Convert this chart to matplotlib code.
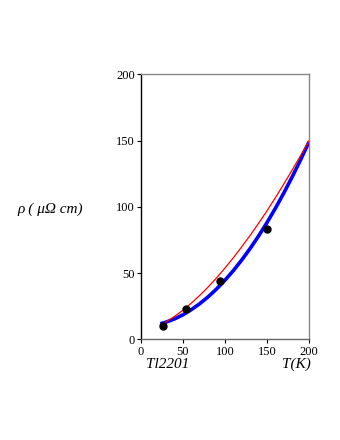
import matplotlib
matplotlib.use("Agg")
import matplotlib.pyplot as plt

# measured resistivity of Tl2201
t_data = [25.8, 53.6, 94.0, 149.6]
rho_data = [10.3, 22.9, 44.2, 83.5]

# fitted curves
t_fit = [23, 30, 40, 50, 60, 70, 80, 90, 100, 110, 120, 130, 140, 150,
         160, 170, 180, 190, 200]
rho_blue = [11.7, 13.0, 15.4, 18.5, 22.4, 26.9, 32.1, 38.0, 44.6, 51.9,
            59.9, 68.6, 78.0, 88.1, 98.9, 110.4, 122.6, 135.5, 149.0]
rho_red = [10.9, 13.3, 17.3, 22.0, 27.3, 33.2, 39.5, 46.4, 53.8, 61.6,
           69.9, 78.5, 87.6, 97.0, 106.9, 117.2, 127.8, 138.7, 150.0]

ticks = [0, 50, 100, 150, 200]
serif = "Liberation Serif"

fig = plt.figure(figsize=(3.4, 4.4), dpi=100)
ax = fig.add_axes([0.4147, 0.2289, 0.4941, 0.6022])

ax.plot(t_fit, rho_blue, color="#0000ff", lw=2.6, solid_capstyle="butt", zorder=2)
ax.plot(t_fit, rho_red, color="#ff0000", lw=0.9, zorder=3)
ax.plot(t_data, rho_data, "o", color="black", ms=5, zorder=4)

ax.set_xlim(0, 200)
ax.set_ylim(0, 200)
ax.set_xticks(ticks)
ax.set_yticks(ticks)
ax.tick_params(direction="out", length=3, width=0.8, pad=1.5, labelsize=9)
for lab in ax.get_xticklabels() + ax.get_yticklabels():
    lab.set_family(serif)

ax.spines["left"].set_color("black")
ax.spines["bottom"].set_color("#666666")
ax.spines["top"].set_color("#888888")
ax.spines["right"].set_color("#888888")
for s in ax.spines.values():
    s.set_linewidth(1.0)

fig.text(168 / 340, 1 - 364 / 440, "Tl2201", family=serif, style="italic",
         fontsize=11, ha="center", va="center")
fig.text(296 / 340, 1 - 364 / 440, "T(K)", family=serif, style="italic",
         fontsize=11, ha="center", va="center")
fig.text(50 / 340, 1 - 209 / 440, "ρ ( μΩ cm)", family=serif, style="italic",
         fontsize=11, ha="center", va="center")

fig.savefig("out.png", dpi=100)
